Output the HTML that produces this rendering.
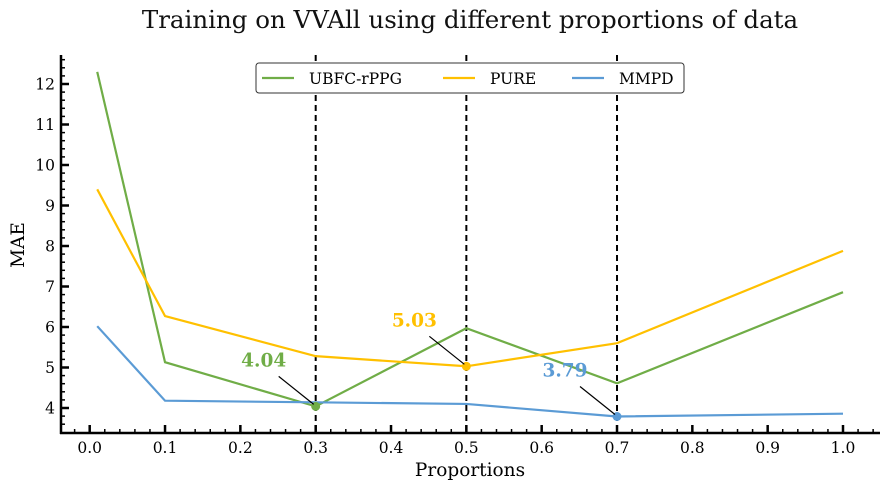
<!DOCTYPE html>
<html><head><meta charset="utf-8"><style>
body{margin:0;background:#fff;}
svg text{font-family:"DejaVu Serif","Liberation Serif",serif;}
</style></head><body>
<svg id="c" width="889" height="489" xmlns="http://www.w3.org/2000/svg">
<text x="470" y="28" text-anchor="middle" font-size="24.5" fill="#111">Training on VVAll using different proportions of data</text>
<text x="470" y="476" text-anchor="middle" font-size="18.5">Proportions</text>
<text x="24" y="245" text-anchor="middle" font-size="18.5" transform="rotate(-90 24 245)">MAE</text>
<g id="g"></g>
</svg>
<script>
const xs=[0.01,0.1,0.3,0.5,0.7,1.0];
const ubfc=[12.3,5.13,4.04,5.97,4.61,6.86];
const pure=[9.4,6.27,5.28,5.03,5.6,7.88];
const mmpd=[6.02,4.18,4.14,4.10,3.79,3.86];
const xTicks=[0,0.1,0.2,0.3,0.4,0.5,0.6,0.7,0.8,0.9,1.0];
const yTicks=[4,5,6,7,8,9,10,11,12];
const vlines=[0.3,0.5,0.7];
const L=61,R=880,T=55,B=433;
const X=v=>89.7+v*753.3;
const Y=v=>570-v*40.5;
const g=document.getElementById('g');
const NS='http://www.w3.org/2000/svg';
function mk(t,a,p){const e=document.createElementNS(NS,t);for(const k in a)e.setAttribute(k,a[k]);(p||g).appendChild(e);return e;}
vlines.forEach(v=>{const e=mk('line',{x1:X(v),x2:X(v),y1:T,y2:B,stroke:'#000','stroke-width':2,'stroke-dasharray':'6,4'});

});
const series=[[ubfc,'#70ad47','UBFC-rPPG'],[pure,'#ffc000','PURE'],[mmpd,'#5b9bd5','MMPD']];
series.forEach(([d,c,n])=>{const e=mk('polyline',{points:d.map((v,i)=>X(xs[i])+','+Y(v)).join(' '),fill:'none',stroke:c,'stroke-width':2.2});

});
const hl=[[ubfc,2,'#70ad47','4.04',-52,-40],[pure,3,'#ffc000','5.03',-52,-40],[mmpd,4,'#5b9bd5','3.79',-52,-40]];
hl.forEach(([d,i,c,t,dx,dy])=>{const px=X(xs[i]),py=Y(d[i]);
const p=mk('circle',{cx:px,cy:py,r:4.5,fill:c});


mk('line',{x1:px-2,y1:py-2,x2:px+dx+15,y2:py+dy+10,stroke:'#000','stroke-width':1.2});
const tx=mk('text',{x:px+dx,y:py+dy,'text-anchor':'middle','font-size':18.5,'font-weight':'bold',fill:c});tx.textContent=t;

});
mk('line',{x1:L,x2:L,y1:T,y2:B+1,stroke:'#000','stroke-width':2.5});
mk('line',{x1:L-1,x2:R,y1:B,y2:B,stroke:'#000','stroke-width':2.5});
for(let v=-0.02;v<=1.06;v+=0.02){const px=X(v);if(px<L+2||px>R)continue;mk('line',{x1:px,x2:px,y1:B,y2:B-4,stroke:'#000','stroke-width':1.5});}
xTicks.forEach(v=>{mk('line',{x1:X(v),x2:X(v),y1:B,y2:B-8,stroke:'#000','stroke-width':2.5});
const t=mk('text',{x:X(v),y:B+20,'text-anchor':'middle','font-size':15.5});t.textContent=v.toFixed(1);

});
for(let v=3.4;v<=12.7;v+=0.2){const py=Y(v);if(py>B-2||py<T)continue;mk('line',{x1:L,x2:L+4,y1:py,y2:py,stroke:'#000','stroke-width':1.5});}
yTicks.forEach(v=>{mk('line',{x1:L,x2:L+8,y1:Y(v),y2:Y(v),stroke:'#000','stroke-width':2.5});
const t=mk('text',{x:L-6,y:Y(v)+5.5,'text-anchor':'end','font-size':15.5});t.textContent=v;

});
const lg=mk('g',{});


mk('rect',{x:256,y:63,width:428,height:30,rx:3,fill:'#fff',stroke:'#333','stroke-width':1},lg);
const lx=[262,443,572];
series.forEach(([d,c,n],i)=>{mk('line',{x1:lx[i],x2:lx[i]+32,y1:78,y2:78,stroke:c,'stroke-width':2.2},lg);
const t=mk('text',{x:lx[i]+47,y:84,'font-size':15.5},lg);t.textContent=n;

});
</script>
</body></html>
